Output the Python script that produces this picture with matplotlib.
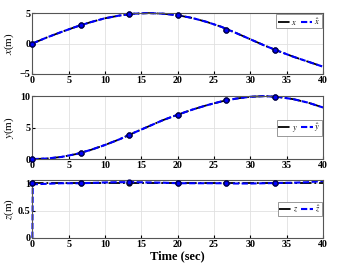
import matplotlib.pyplot as plt

plt.rcParams["font.family"] = ["Liberation Serif", "DejaVu Serif"]
plt.rcParams["mathtext.fontset"] = "stix"

# time samples (sec)
t = [0, 2, 4, 6, 8, 10, 12, 14, 16, 18, 20, 22, 24, 26, 28, 30, 32, 34, 36, 38, 40]
x_true = [0, 1.0, 1.9, 2.75, 3.5, 4.15, 4.6, 4.9, 5.0, 4.9, 4.65, 4.2, 3.55, 2.75, 1.75, 0.7, -0.35, -1.3, -2.2, -3.0, -3.8]
y_true = [0, 0.1, 0.35, 0.8, 1.45, 2.25, 3.15, 4.2, 5.2, 6.2, 7.05, 7.85, 8.55, 9.15, 9.6, 9.9, 10.0, 9.85, 9.5, 8.95, 8.2]

tz = [0, 0.05, 2, 4, 6, 8, 10, 12, 14, 16, 18, 20, 22, 24, 26, 28, 30, 32, 34, 36, 38, 40]
z_true = [1.0] * len(tz)
z_est = [0, 0.98, 0.99, 1.0, 1.0, 1.005, 1.015, 1.02, 1.02, 1.015, 1.01, 1.0, 1.0, 1.0, 1.0, 0.995,
         0.995, 1.0, 1.005, 1.01, 1.02, 1.04]

# marker samples
tm = [0, 20 / 3, 40 / 3, 20, 80 / 3, 100 / 3]
x_mark = [0, 3.0, 4.85, 4.7, 2.3, -1.0]
y_mark = [0, 1.0, 3.8, 7.0, 9.4, 9.9]
z_mark_true = [1, 1, 1, 1, 1, 1]
z_mark_est = [1.0, 1.0, 1.02, 1.0, 1.0, 1.0]

fig = plt.figure(figsize=(3.41, 2.67), dpi=100)
ax1 = fig.add_axes([0.095, 0.723, 0.852, 0.228])
ax2 = fig.add_axes([0.095, 0.404, 0.852, 0.236])
ax3 = fig.add_axes([0.095, 0.109, 0.852, 0.217])

ms = 3.5

def draw(ax, tt, tr, es, lab, mt, mtr, mes):
    ax.plot(tt, tr, color="black", linestyle="-.", linewidth=1.3, label="$%s$" % lab, clip_on=False)
    ax.plot(tt, es, color="blue", linestyle=(0, (3, 1.2)), linewidth=1.5, label="$\\hat{%s}$" % lab,
            clip_on=False)
    ax.plot(mt, mtr, "o", color="black", markersize=ms, zorder=3, clip_on=False)
    ax.plot(mt, mes, "o", color="blue", markeredgecolor="#000060", markersize=ms, zorder=4, clip_on=False)

draw(ax1, t, x_true, x_true, "x", tm, x_mark, x_mark)
draw(ax2, t, y_true, y_true, "y", tm, y_mark, y_mark)
draw(ax3, tz, z_true, z_est, "z", tm, z_mark_true, z_mark_est)

ax1.set_ylim(-5, 5)
ax1.set_yticks([-5, 0, 5])
ax2.set_ylim(0, 10)
ax2.set_yticks([0, 5, 10])
ax3.set_ylim(0, 1.06)
ax3.set_yticks([0, 0.5, 1])
ax3.set_yticklabels(["0", "0.5", "1"])

for ax, lab, loc in [(ax1, "x", "upper right"), (ax2, "y", "center right"), (ax3, "z", "center right")]:
    ax.set_xlim(0, 40)
    ax.set_xticks(range(0, 41, 5))
    ax.grid(True, color="#e0e0e0", linewidth=0.6)
    ax.set_ylabel("$%s$(m)" % lab, fontsize=8)
    ax.yaxis.set_label_coords(-0.057, 0.5)
    ax.tick_params(labelsize=7.2, length=2, pad=1.2, direction="in")
    for lb in ax.get_xticklabels() + ax.get_yticklabels():
        lb.set_fontweight("bold")
    for s in ax.spines.values():
        s.set_color("#555555")
        s.set_linewidth(0.8)
    leg = ax.legend(loc=loc, ncol=2, fontsize=6, handlelength=1.4, handletextpad=0.2,
                    columnspacing=0.4, borderpad=0.2, borderaxespad=0.15, fancybox=False,
                    framealpha=1, edgecolor="#888888")
    leg.get_frame().set_linewidth(0.6)

ax3.set_xlabel("Time (sec)", fontsize=9, fontweight="bold", labelpad=1)

fig.savefig("out.png", dpi=100)
